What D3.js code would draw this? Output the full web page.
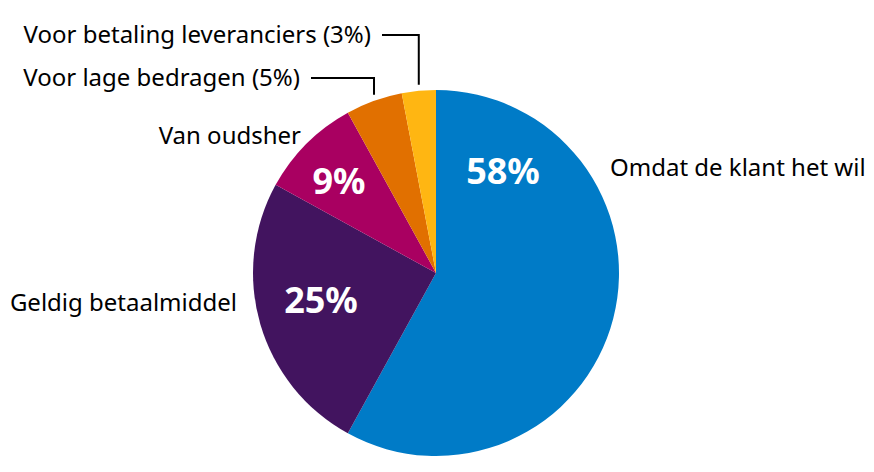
<!DOCTYPE html>
<html>
<head>
<meta charset="utf-8">
<script src="https://cdn.jsdelivr.net/npm/d3@7"></script>
<style>
  body { margin: 0; background: #fff; }
  text { font-family: "Noto Sans", "Open Sans", sans-serif; }
</style>
</head>
<body>
<svg id="chart" width="874" height="472"></svg>
<script>
// data
var categories = ['Omdat de klant het wil', 'Geldig betaalmiddel', 'Van oudsher',
                  'Voor lage bedragen', 'Voor betaling leveranciers'];
var values = [58, 25, 9, 5, 3];
var colors = ['#007bc7', '#42145f', '#a90061', '#e17000', '#ffb612'];

// layout
var width = 874, height = 472,
    cx = 436, cy = 273, radius = 183;

// label spots (text anchor, baseline) and inner value spots
var nameSpots = [
  {x: 610, y: 176, anchor: 'start'},
  {x: 237, y: 311, anchor: 'end'},
  {x: 301, y: 144, anchor: 'end'},
  {x: 300, y: 86,  anchor: 'end', lineY: 78},
  {x: 371, y: 43,  anchor: 'end', lineY: 35}
];
var valueSpots = [
  {x: 503, y: 184},
  {x: 321, y: 313},
  {x: 339, y: 194},
  null, null
];

var svg = d3.select('#chart');
var g = svg.append('g').attr('transform', 'translate(' + cx + ',' + cy + ')');

var pie = d3.pie().sort(null).value(function(d) { return d; });
var arc = d3.arc().innerRadius(0).outerRadius(radius);
var arcs = pie(values);

g.selectAll('path')
    .data(arcs)
  .enter().append('path')
    .attr('d', arc)
    .attr('fill', function(d, i) { return colors[i]; });

// names
svg.selectAll('text.name')
    .data(categories)
  .enter().append('text')
    .attr('class', 'name')
    .attr('x', function(d, i) { return nameSpots[i].x; })
    .attr('y', function(d, i) { return nameSpots[i].y; })
    .attr('text-anchor', function(d, i) { return nameSpots[i].anchor; })
    .attr('font-size', 24)
    .attr('fill', '#000')
    .text(function(d, i) {
      return nameSpots[i].lineY ? d + ' (' + values[i] + '%)' : d;
    });

// leader lines for the small slices
arcs.forEach(function(a, i) {
  var s = nameSpots[i];
  if (!s.lineY) return;
  var mid = (a.startAngle + a.endAngle) / 2;
  var x = cx + radius * Math.sin(mid);
  var yEdge = cy - radius * Math.cos(mid) - 6;
  svg.append('path')
      .attr('d', 'M' + (s.x + 11) + ',' + s.lineY + 'H' + x + 'V' + yEdge)
      .attr('fill', 'none')
      .attr('stroke', '#000')
      .attr('stroke-width', 2);
});

// values inside
svg.selectAll('text.value')
    .data(values)
  .enter().filter(function(d, i) { return valueSpots[i]; })
  .append('text')
    .attr('class', 'value')
    .attr('x', function(d, i) { return valueSpots[i].x; })
    .attr('y', function(d, i) { return valueSpots[i].y; })
    .attr('text-anchor', 'middle')
    .attr('font-size', 36)
    .attr('font-weight', 'bold')
    .attr('fill', '#fff')
    .text(function(d) { return d + '%'; });
</script>
</body>
</html>
